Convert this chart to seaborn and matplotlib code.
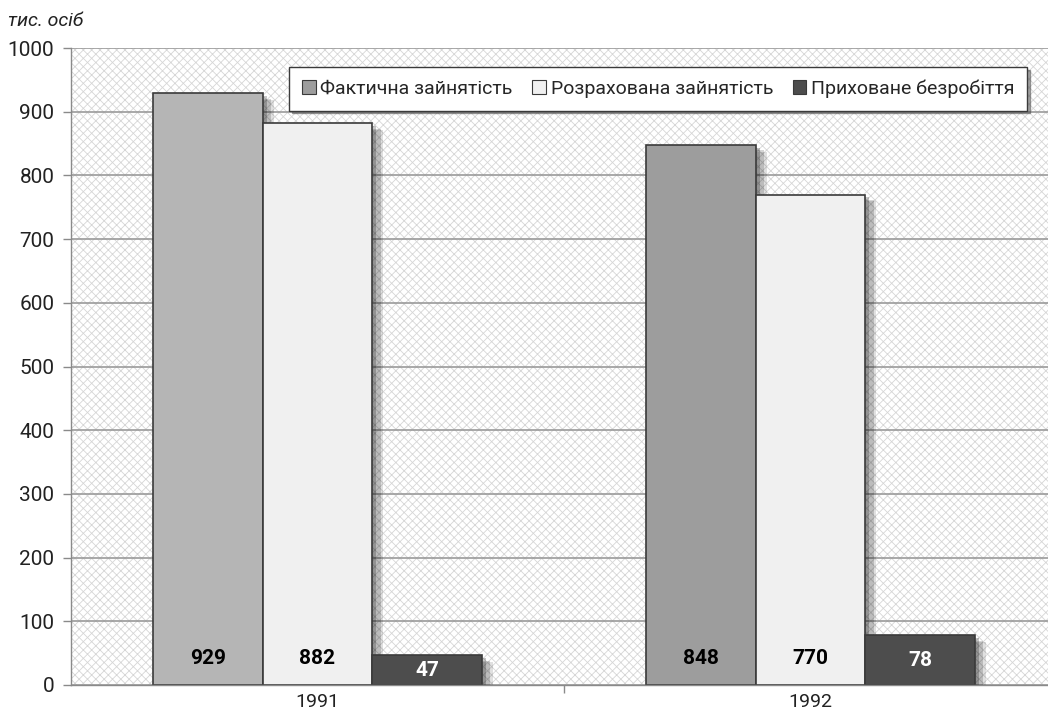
import matplotlib
matplotlib.use('Agg')
import matplotlib.pyplot as plt
import matplotlib.patheffects as pe
from matplotlib.patches import Patch
import seaborn as sns
import pandas as pd

years = ['1991', '1992']
series = ['Фактична зайнятість', 'Розрахована зайнятість', 'Приховане безробіття']
actual = [929, 848]
estimated = [882, 770]
hidden = [47, 78]

df = pd.DataFrame({
    'year': years * 3,
    'series': [series[0]] * 2 + [series[1]] * 2 + [series[2]] * 2,
    'value': actual + estimated + hidden,
})

sns.set_theme(style='white')
plt.rcParams['font.family'] = ['Roboto', 'DejaVu Sans']
plt.rcParams['hatch.linewidth'] = 0.6

colors = ['#9d9d9d', '#f0f0f0', '#4d4d4d']

fig = plt.figure(figsize=(10.48, 7.13), dpi=100)
ax = fig.add_axes([71 / 1048, 28 / 713, 977 / 1048, 637 / 713])

# crosshatch background
ax.patch.set_facecolor('white')
ax.patch.set_hatch('xxxx')
ax.patch.set_edgecolor('#d6d6d6')
ax.patch.set_linewidth(0)

sns.barplot(data=df, x='year', y='value', hue='series', palette=colors,
            width=0.667, edgecolor='#3a3a3a', linewidth=1.2, saturation=1,
            legend=False, ax=ax)

# first series is lighter in 1991
ax.containers[0][0].set_facecolor('#b5b5b5')

# soft-ish shadow: a few stacked offsets
shadow = [pe.SimplePatchShadow(offset=(8, -5), shadow_rgbFace='black', alpha=0.12),
          pe.SimplePatchShadow(offset=(6, -4), shadow_rgbFace='black', alpha=0.16),
          pe.SimplePatchShadow(offset=(3, -2), shadow_rgbFace='black', alpha=0.22),
          pe.Normal()]
for i, cont in enumerate(ax.containers):
    for bar in cont:
        bar.set_path_effects(shadow)
        h = bar.get_height()
        y = min(42, h / 2 - 1)
        ax.text(bar.get_x() + bar.get_width() / 2, y, f'{int(h)}',
                ha='center', va='center', fontsize=15, fontweight='bold',
                color='white' if i == 2 else 'black', zorder=5)

ax.set_xlim(-0.5, 1.482)
ax.set_ylim(0, 1000)
ax.set_yticks(range(0, 1001, 100))
ax.yaxis.grid(True, color='#9a9a9a', linewidth=1.2)
ax.set_axisbelow(True)
ax.set_xlabel('')
ax.set_ylabel('')

ax.tick_params(axis='y', length=6, width=1, color='#8a8a8a', labelsize=15,
               pad=6, left=True)
ax.tick_params(axis='x', length=0, labelsize=14, pad=6)
ax.set_xticks([0.5], minor=True)
ax.tick_params(axis='x', which='minor', length=6, width=1, color='#8a8a8a',
               bottom=True)
for lab in ax.get_yticklabels() + ax.get_xticklabels():
    lab.set_color('#222222')

for s in ['top', 'right']:
    ax.spines[s].set_visible(False)
for s in ['left', 'bottom']:
    ax.spines[s].set_color('#8a8a8a')
    ax.spines[s].set_linewidth(1)

fig.text(8 / 1048, 1 - 21 / 713, 'тис. осіб', fontsize=14, style='italic',
         color='#222222', va='center', ha='left')

handles = [Patch(facecolor=c, edgecolor='#3a3a3a', linewidth=0.8) for c in colors]
leg = ax.legend(handles, series, ncol=3, loc='upper right',
                bbox_to_anchor=(1037 / 1048, 1 - 57 / 713),
                bbox_transform=fig.transFigure, fontsize=14,
                frameon=True, fancybox=False, shadow=True,
                handlelength=0.7, handleheight=0.7, handletextpad=0.25,
                columnspacing=1.0, borderpad=0.65)
leg.get_frame().set_edgecolor('#3a3a3a')
leg.get_frame().set_linewidth(1)
leg.get_frame().set_facecolor('white')

fig.savefig('out.png', dpi=100)
